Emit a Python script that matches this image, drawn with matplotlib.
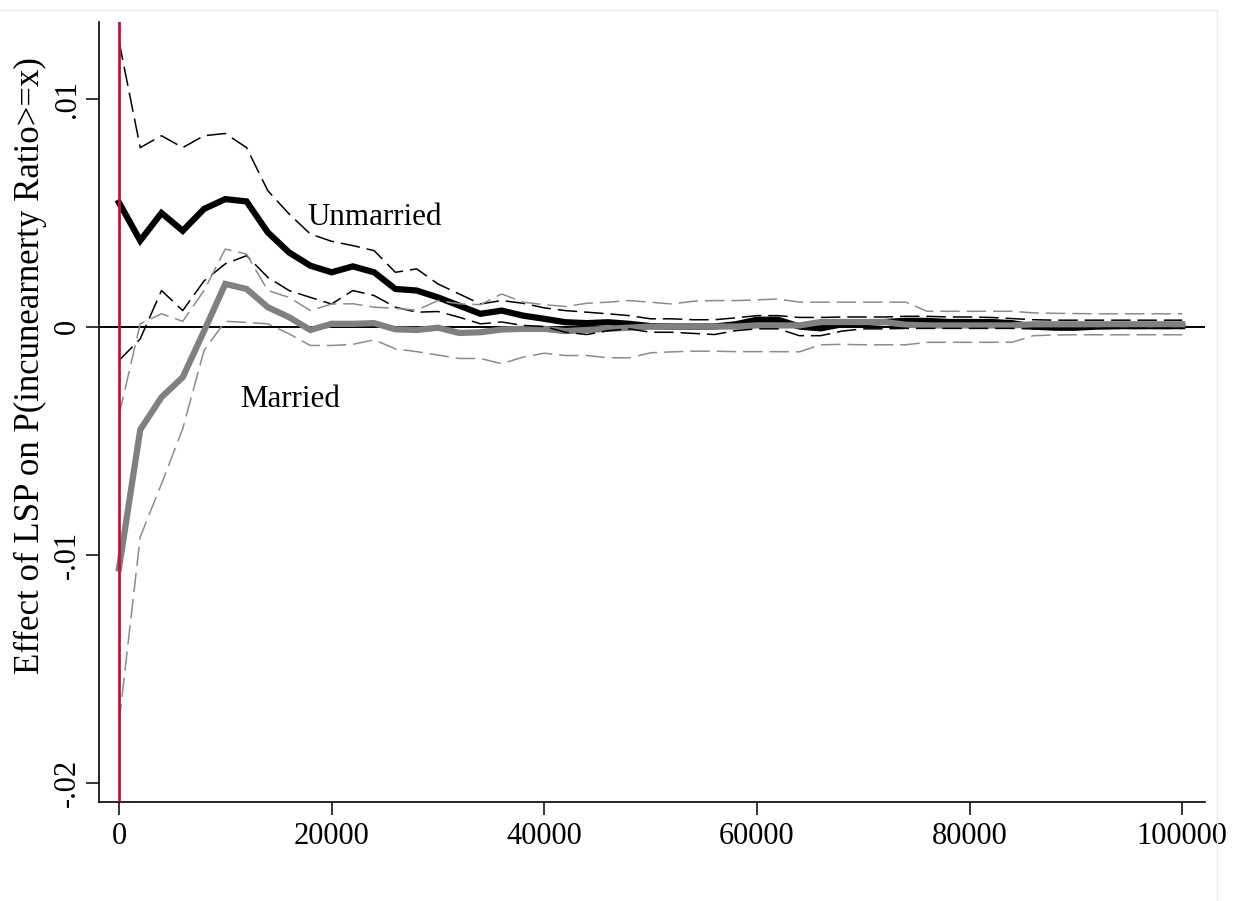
import numpy as np
import matplotlib.pyplot as plt
from matplotlib.lines import Line2D

plt.rcParams['font.family'] = ['Liberation Serif', 'DejaVu Serif']
plt.rcParams['lines.scale_dashes'] = False

# income thresholds (x) and estimated effects with 95% bands
thresholds = list(range(0, 100001, 2000))

unmarried = [0.00544, 0.00377, 0.00498, 0.00420, 0.00516, 0.00559, 0.00549, 0.00413,
             0.00325, 0.00267, 0.00238, 0.00264, 0.00238, 0.00165, 0.00158, 0.00128,
             0.00092, 0.00056, 0.00070, 0.00048, 0.00034, 0.00019, 0.00015, 0.00019,
             0.00012, 0.00002, 0.00000, 0.00000, 0.00000, 0.00010, 0.00030, 0.00030,
             0.00000, -0.00008, 0.00010, 0.00015, 0.00020, 0.00025, 0.00025, 0.00020,
             0.00020, 0.00020, 0.00015, 0.00000, -0.00005, -0.00005, 0.00000, 0.00002,
             0.00002, 0.00002, 0.00002]
unmarried_hi = [0.01253, 0.00785, 0.00837, 0.00785, 0.00837, 0.00847, 0.00785, 0.00596,
                0.00494, 0.00406, 0.00374, 0.00355, 0.00333, 0.00238, 0.00253, 0.00187,
                0.00143, 0.00099, 0.00114, 0.00102, 0.00082, 0.00070, 0.00063, 0.00056,
                0.00048, 0.00034, 0.00034, 0.00030, 0.00030, 0.00038, 0.00048, 0.00048,
                0.00040, 0.00040, 0.00042, 0.00042, 0.00042, 0.00045, 0.00045, 0.00042,
                0.00042, 0.00040, 0.00035, 0.00030, 0.00028, 0.00028, 0.00028, 0.00028,
                0.00028, 0.00028, 0.00028]
unmarried_lo = [-0.00149, -0.00054, 0.00158, 0.00070, 0.00200, 0.00275, 0.00311, 0.00216,
                0.00158, 0.00128, 0.00099, 0.00158, 0.00136, 0.00085, 0.00063, 0.00066,
                0.00041, 0.00012, 0.00020, 0.00005, 0.00000, -0.00025, -0.00035, -0.00018,
                -0.00010, -0.00025, -0.00025, -0.00030, -0.00035, -0.00018, -0.00010, -0.00010,
                -0.00040, -0.00040, -0.00020, -0.00010, -0.00010, -0.00008, -0.00008, -0.00008,
                -0.00008, -0.00008, -0.00008, -0.00010, -0.00010, -0.00010, -0.00008, -0.00008,
                -0.00008, -0.00008, -0.00008]

married = [-0.01061, -0.00453, -0.00310, -0.00222, -0.00020, 0.00187, 0.00165, 0.00085,
           0.00041, -0.00015, 0.00012, 0.00012, 0.00015, -0.00012, -0.00015, -0.00005,
           -0.00028, -0.00025, -0.00013, -0.00010, -0.00010, -0.00020, -0.00015, -0.00010,
           -0.00005, 0.00000, 0.00000, 0.00000, 0.00000, 0.00000, 0.00005, 0.00005,
           0.00005, 0.00020, 0.00020, 0.00020, 0.00020, 0.00008, 0.00005, 0.00005,
           0.00005, 0.00005, 0.00005, 0.00010, 0.00010, 0.00010, 0.00010, 0.00010,
           0.00010, 0.00010, 0.00010]
married_hi = [-0.00390, 0.00012, 0.00056, 0.00023, 0.00158, 0.00340, 0.00318, 0.00158,
              0.00128, 0.00070, 0.00099, 0.00100, 0.00085, 0.00080, 0.00072, 0.00114,
              0.00100, 0.00096, 0.00143, 0.00107, 0.00096, 0.00088, 0.00102, 0.00107,
              0.00114, 0.00107, 0.00099, 0.00111, 0.00114, 0.00114, 0.00117, 0.00121,
              0.00107, 0.00107, 0.00107, 0.00107, 0.00107, 0.00107, 0.00067, 0.00067,
              0.00067, 0.00067, 0.00067, 0.00060, 0.00058, 0.00057, 0.00056, 0.00056,
              0.00056, 0.00056, 0.00056]
married_lo = [-0.01740, -0.00923, -0.00690, -0.00448, -0.00105, 0.00023, 0.00018, 0.00012,
              -0.00032, -0.00083, -0.00083, -0.00078, -0.00058, -0.00098, -0.00110, -0.00125,
              -0.00140, -0.00140, -0.00163, -0.00134, -0.00117, -0.00127, -0.00127, -0.00137,
              -0.00137, -0.00115, -0.00111, -0.00108, -0.00108, -0.00110, -0.00110, -0.00110,
              -0.00111, -0.00080, -0.00078, -0.00080, -0.00080, -0.00080, -0.00069, -0.00069,
              -0.00069, -0.00069, -0.00069, -0.00040, -0.00037, -0.00036, -0.00036, -0.00036,
              -0.00036, -0.00036, -0.00036]

x_ticks = [0, 20000, 40000, 60000, 80000, 100000]
y_ticks = [-0.02, -0.01, 0.0, 0.01]
y_ticklabels = ['-.02', '-.01', '0', '.01']

fig = plt.figure(figsize=(12.37, 9.01), dpi=100)
ax = fig.add_axes([0.080, 0.110, 0.894, 0.8656])

grey = '#808080'
dash = (0, (14, 5))

ax.axhline(0, color='black', lw=1.4, zorder=1)
ax.plot(thresholds, unmarried, color='black', lw=4.5, solid_joinstyle='miter', zorder=2)
ax.plot(thresholds, married, color=grey, lw=4.5, solid_joinstyle='miter', zorder=3)
ax.plot(thresholds, unmarried_hi, color='black', lw=1.1, ls=dash, zorder=4)
ax.plot(thresholds, unmarried_lo, color='black', lw=1.1, ls=dash, zorder=4)
ax.plot(thresholds, married_hi, color='#8c8c8c', lw=1.1, ls=dash, zorder=4)
ax.plot(thresholds, married_lo, color='#8c8c8c', lw=1.1, ls=dash, zorder=4)
ax.axvline(0, color='#c8103e', lw=2.0, zorder=5)

ax.text(17750, 0.00447, 'Unmarried', fontsize=22.3, ha='left', va='baseline')
ax.text(11360, -0.00355, 'Married', fontsize=22.3, ha='left', va='baseline')

ax.set_xlim(-1880, 102130)
ax.set_ylim(-0.02085, 0.01336)
ax.set_xticks(x_ticks)
ax.set_xticklabels([str(t) for t in x_ticks])
ax.set_yticks(y_ticks)
ax.set_yticklabels(y_ticklabels, rotation=90, va='center')

for side in ['top', 'right']:
    ax.spines[side].set_visible(False)
for side in ['left', 'bottom']:
    ax.spines[side].set_linewidth(1.2)
ax.tick_params(axis='both', labelsize=22, length=9.5, width=1.1)
ax.tick_params(axis='x', pad=5)
ax.tick_params(axis='y', pad=3)

ax.set_ylabel('Effect of LSP on P(incunearnerty Ratio>=x)', fontsize=25, va='center')
ax.yaxis.set_label_coords(-0.0615, 0.56)

# light frame around the graph region
fig.add_artist(Line2D([0, 1217 / 1237], [1 - 9.5 / 901, 1 - 9.5 / 901],
                      color='#e6eaed', lw=1.0))
fig.add_artist(Line2D([1217 / 1237, 1217 / 1237], [0, 1 - 9.5 / 901],
                      color='#e6eaed', lw=1.0))

fig.savefig('out.png', dpi=100, facecolor='white')
